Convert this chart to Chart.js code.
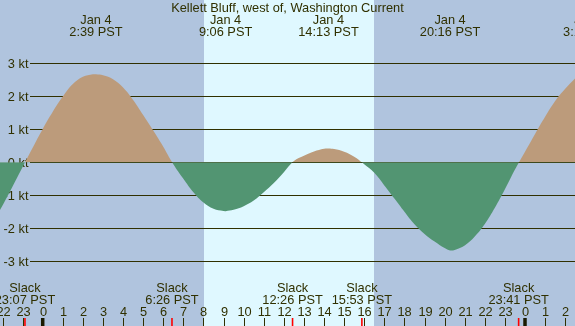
<!DOCTYPE html>
<html>
<head>
<meta charset="utf-8">
<script src="https://cdn.jsdelivr.net/npm/chart.js@4"></script>
<style>
html,body{margin:0;padding:0;background:#b0c4de;}
#wrap{width:575px;height:326px;position:relative;}
</style>
</head>
<body>
<div id="wrap"><canvas id="c" width="575" height="326"></canvas></div>
<script>
// ---- data ----
const titleText = "Kellett Bluff, west of, Washington Current";
// hours relative to Jan 4 00:00 PST, current speed in knots (flood +, ebb -)
const curveHours = [-2.13,-2.0,-1.5,-1.0,-0.5,0.0,0.5,1.0,1.5,2.0,2.5,2.65,3.0,3.5,4.0,4.5,5.0,5.5,6.0,6.5,7.0,7.5,8.0,8.5,9.0,9.1,9.5,10.0,10.5,11.0,11.5,12.0,12.5,13.0,13.5,14.0,14.22,14.5,15.0,15.5,16.0,16.5,17.0,17.5,18.0,18.5,19.0,19.5,20.0,20.27,20.5,21.0,21.5,22.0,22.5,23.0,23.5,24.0,24.5,25.0,25.5,26.0,26.49];
const curveKnots = [-1.45,-1.31,-0.73,-0.14,0.44,1.01,1.53,1.99,2.37,2.59,2.665,2.67,2.64,2.52,2.27,1.89,1.43,0.96,0.47,-0.06,-0.5,-0.91,-1.22,-1.41,-1.478,-1.48,-1.44,-1.33,-1.16,-0.91,-0.63,-0.30,0.04,0.20,0.33,0.41,0.42,0.40,0.32,0.17,-0.06,-0.32,-0.70,-1.10,-1.50,-1.88,-2.17,-2.40,-2.60,-2.67,-2.655,-2.52,-2.25,-1.87,-1.38,-0.82,-0.22,0.32,0.86,1.38,1.86,2.23,2.54];

const extremeHours = [2.65, 9.10, 14.22, 20.27, 27.22];
const extremeDates = ["Jan 4","Jan 4","Jan 4","Jan 4","Jan 5"];
const extremeTimes = ["2:39 PST","9:06 PST","14:13 PST","20:16 PST","3:13 PST"];

const slackHours = [-0.883, 6.433, 12.433, 15.883, 23.683];
const slackTimes = ["23:07 PST","6:26 PST","12:26 PST","15:53 PST","23:41 PST"];

const hourTicks = [-2,-1,0,1,2,3,4,5,6,7,8,9,10,11,12,13,14,15,16,17,18,19,20,21,22,23,24,25,26];
const hourLabels = ["22","23","0","1","2","3","4","5","6","7","8","9","10","11","12","13","14","15","16","17","18","19","20","21","22","23","0","1","2"];
const midnightHours = [0, 24];

const yTicks = [3,2,1,0,-1,-2,-3];
const yLabels = ["3 kt","2 kt","1 kt","0 kt","-1 kt","-2 kt","-3 kt"];

const sunriseHour = 8.04;
const sunsetHour = 16.5;

// ---- styles ----
const NIGHT = "#b0c4de", DAY = "#dff8ff";
const FLOOD = "#bc9b7b", EBB = "#529572";
const INK = "#303000";
const FONT = '12.8px "Liberation Sans", Arial, sans-serif';

const points = curveHours.map((h,i)=>({x:h, y:curveKnots[i]}));

const decor = {
  id:'decor',
  beforeDatasetsDraw(chart){
    const {ctx, scales:{x,y}} = chart;
    ctx.save();
    ctx.fillStyle = NIGHT;
    ctx.fillRect(0,0,chart.width,chart.height);
    ctx.fillStyle = DAY;
    const xa = x.getPixelForValue(sunriseHour), xb = x.getPixelForValue(sunsetHour);
    ctx.fillRect(Math.round(xa),0,Math.round(xb)-Math.round(xa),chart.height);
    // grid lines + y labels
    ctx.strokeStyle = INK; ctx.lineWidth = 1.2;
    ctx.font = FONT; ctx.fillStyle = INK; ctx.textAlign='right'; ctx.textBaseline='middle';
    yTicks.forEach((v,i)=>{
      const py = Math.floor(y.getPixelForValue(v))+0.5;
      ctx.beginPath(); ctx.moveTo(30,py); ctx.lineTo(chart.width,py); ctx.stroke();
      ctx.fillText(yLabels[i], 28.5, py+0.5);
    });
    ctx.restore();
  },
  afterDatasetsDraw(chart){
    const {ctx, scales:{x,y}} = chart;
    ctx.save();
    ctx.font = FONT; ctx.fillStyle = INK; ctx.textAlign='center'; ctx.textBaseline='alphabetic';
    // title
    ctx.fillText(titleText, 287.5, 12);
    // extremes
    extremeHours.forEach((h,i)=>{
      const px = x.getPixelForValue(h);
      ctx.fillText(extremeDates[i], px, 24);
      ctx.fillText(extremeTimes[i], px, 36);
    });
    // slacks
    slackHours.forEach((h,i)=>{
      const px = x.getPixelForValue(h);
      ctx.fillText("Slack", px, 292);
      ctx.fillText(slackTimes[i], px, 303.5);
    });
    // hour ticks
    ctx.strokeStyle = INK; ctx.lineWidth = 1;
    hourTicks.forEach((h,i)=>{
      const px = Math.round(x.getPixelForValue(h))+0.5;
      ctx.beginPath(); ctx.moveTo(px,318); ctx.lineTo(px,326); ctx.stroke();
      ctx.fillText(hourLabels[i], px, 316);
    });
    ctx.lineWidth = 3.5; ctx.strokeStyle = "#1a1a00";
    midnightHours.forEach(h=>{
      const px = x.getPixelForValue(h);
      ctx.beginPath(); ctx.moveTo(px,318); ctx.lineTo(px,326); ctx.stroke();
    });
    ctx.lineWidth = 1.6; ctx.strokeStyle = "#ff0000";
    slackHours.forEach(h=>{
      const px = x.getPixelForValue(h);
      ctx.beginPath(); ctx.moveTo(px,318); ctx.lineTo(px,326); ctx.stroke();
    });
    ctx.restore();
  }
};

new Chart(document.getElementById('c'), {
  type:'line',
  data:{datasets:[{
    data: points,
    borderWidth:0, borderColor:'rgba(0,0,0,0)',
    pointRadius:0,
    tension:0.4,
    fill:{target:'origin', above:FLOOD, below:EBB}
  }]},
  options:{
    responsive:false, animation:false, devicePixelRatio:1,
    layout:{padding:0},
    plugins:{legend:{display:false}, tooltip:{enabled:false}},
    scales:{
      x:{type:'linear', min:-2.125, max:26.488, display:false},
      y:{type:'linear', min:-4.961, max:4.918, display:false}
    }
  },
  plugins:[decor]
});
</script>
</body>
</html>
